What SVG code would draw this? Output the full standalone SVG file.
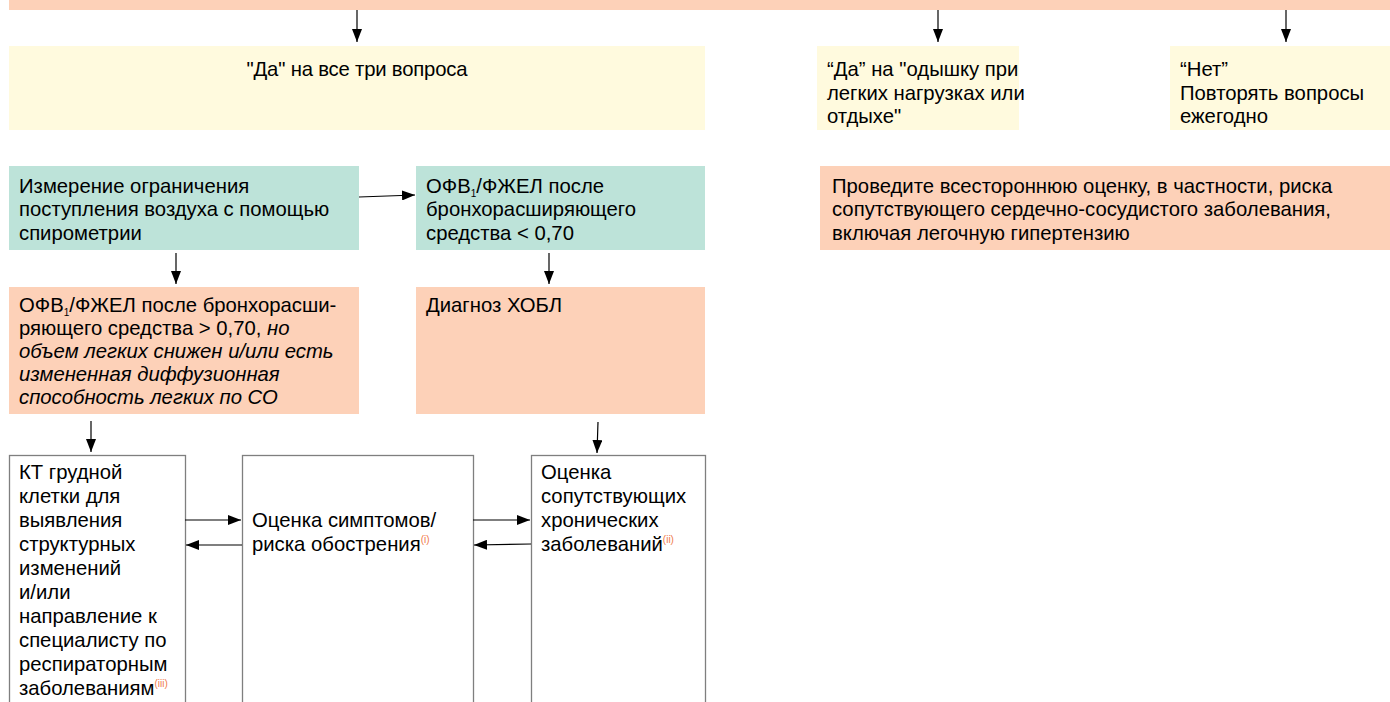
<svg xmlns="http://www.w3.org/2000/svg" width="1390" height="702" viewBox="0 0 1390 702">
  <defs>
    <style>
      text { font-family: "Liberation Sans", Arial, sans-serif; font-size: 20.3px; fill: #000; }
      .peach { fill: #fdd1b8; }
      .teal { fill: #bde3d9; }
      .yellow { fill: #fffade; }
      .plain { fill: #fff; stroke: #7f7f7f; stroke-width: 1.3; }
      .conn { stroke: #000; stroke-width: 1.2; fill: none; marker-end: url(#arrow); }
      .note { font-size: 10px; fill: #f07a4a; }
      .sub { font-size: 10px; }
      .it { font-style: italic; }
    </style>
    <marker id="arrow" viewBox="0 0 13 10" refX="13" refY="5" markerWidth="13" markerHeight="10" markerUnits="userSpaceOnUse" orient="auto">
      <path d="M0,0 L13,5 L0,10 Z" fill="#000"/>
    </marker>
  </defs>

  <!-- top question box (cut at the upper edge) -->
  <g id="questions">
    <rect class="peach" x="9" y="-20" width="1381" height="30"/>
  </g>

  <g id="yes-all">
    <rect class="yellow" x="9" y="46" width="696" height="84"/>
    <text x="357" y="76" text-anchor="middle" textLength="221">"Да" на все три вопроса</text>
  </g>

  <g id="yes-dyspnea">
    <rect class="yellow" x="817" y="46" width="202" height="84"/>
    <text x="827" y="76">“Да” на "одышку при</text>
    <text x="827" y="100">легких нагрузках или</text>
    <text x="827" y="123">отдыхе"</text>
  </g>

  <g id="no">
    <rect class="yellow" x="1170" y="46" width="220" height="84"/>
    <text x="1180" y="76">“Нет”</text>
    <text x="1180" y="100">Повторять вопросы</text>
    <text x="1180" y="123">ежегодно</text>
  </g>

  <g id="spirometry">
    <rect class="teal" x="9" y="166" width="350" height="84"/>
    <text x="19" y="193">Измерение ограничения</text>
    <text x="19" y="216">поступления воздуха с помощью</text>
    <text x="19" y="240">спирометрии</text>
  </g>

  <g id="ratio-low">
    <rect class="teal" x="416" y="166" width="289" height="84"/>
    <text x="426" y="193">ОФВ<tspan class="sub" dy="4">1</tspan><tspan dy="-4">/ФЖЕЛ после</tspan></text>
    <text x="426" y="216">бронхорасширяющего</text>
    <text x="426" y="240">средства &lt; 0,70</text>
  </g>

  <g id="comprehensive">
    <rect class="peach" x="820" y="166" width="570" height="84"/>
    <text x="832" y="193">Проведите всестороннюю оценку, в частности, риска</text>
    <text x="832" y="216">сопутствующего сердечно-сосудистого заболевания,</text>
    <text x="832" y="240">включая легочную гипертензию</text>
  </g>

  <g id="ratio-high">
    <rect class="peach" x="9" y="287" width="350" height="127"/>
    <text x="19" y="312">ОФВ<tspan class="sub" dy="4">1</tspan><tspan dy="-4">/ФЖЕЛ после бронхорасши-</tspan></text>
    <text x="19" y="335">ряющего средства &gt; 0,70, <tspan class="it">но</tspan></text>
    <text x="19" y="358" class="it">объем легких снижен и/или есть</text>
    <text x="19" y="381" class="it">измененная диффузионная</text>
    <text x="19" y="404" class="it">способность легких по СО</text>
  </g>

  <g id="copd">
    <rect class="peach" x="416" y="287" width="289" height="127"/>
    <text x="426" y="312">Диагноз ХОБЛ</text>
  </g>

  <g id="ct">
    <rect class="plain" x="9.5" y="455.5" width="176" height="260"/>
    <text x="19" y="479">КТ грудной</text>
    <text x="19" y="503">клетки для</text>
    <text x="19" y="527">выявления</text>
    <text x="19" y="551">структурных</text>
    <text x="19" y="575">изменений</text>
    <text x="19" y="599">и/или</text>
    <text x="19" y="623">направление к</text>
    <text x="19" y="647">специалисту по</text>
    <text x="19" y="671">респираторным</text>
    <text x="19" y="695">заболеваниям<tspan class="note" dy="-8">(iii)</tspan></text>
  </g>

  <g id="symptoms">
    <rect class="plain" x="242.5" y="455.5" width="231" height="260"/>
    <text x="252" y="527">Оценка симптомов/</text>
    <text x="252" y="551">риска обострения<tspan class="note" dy="-8">(i)</tspan></text>
  </g>

  <g id="comorbidities">
    <rect class="plain" x="531.5" y="455.5" width="174" height="260"/>
    <text x="541" y="479">Оценка</text>
    <text x="541" y="503">сопутствующих</text>
    <text x="541" y="527">хронических</text>
    <text x="541" y="551">заболеваний<tspan class="note" dy="-8">(ii)</tspan></text>
  </g>

  <g id="connectors">
    <line class="conn" x1="357" y1="10" x2="357" y2="42"/>
    <line class="conn" x1="938" y1="10" x2="938" y2="42"/>
    <line class="conn" x1="1286" y1="10" x2="1286" y2="42"/>
    <line class="conn" x1="359" y1="197" x2="415" y2="195"/>
    <line class="conn" x1="176" y1="253" x2="176" y2="284"/>
    <line class="conn" x1="549" y1="253" x2="549" y2="284"/>
    <line class="conn" x1="91" y1="421" x2="91" y2="452"/>
    <line class="conn" x1="598" y1="422" x2="597" y2="453"/>
    <line class="conn" x1="185" y1="520" x2="241" y2="520"/>
    <line class="conn" x1="242" y1="545" x2="186" y2="545"/>
    <line class="conn" x1="473" y1="520" x2="530" y2="520"/>
    <line class="conn" x1="531" y1="544" x2="474" y2="545"/>
  </g>
</svg>
